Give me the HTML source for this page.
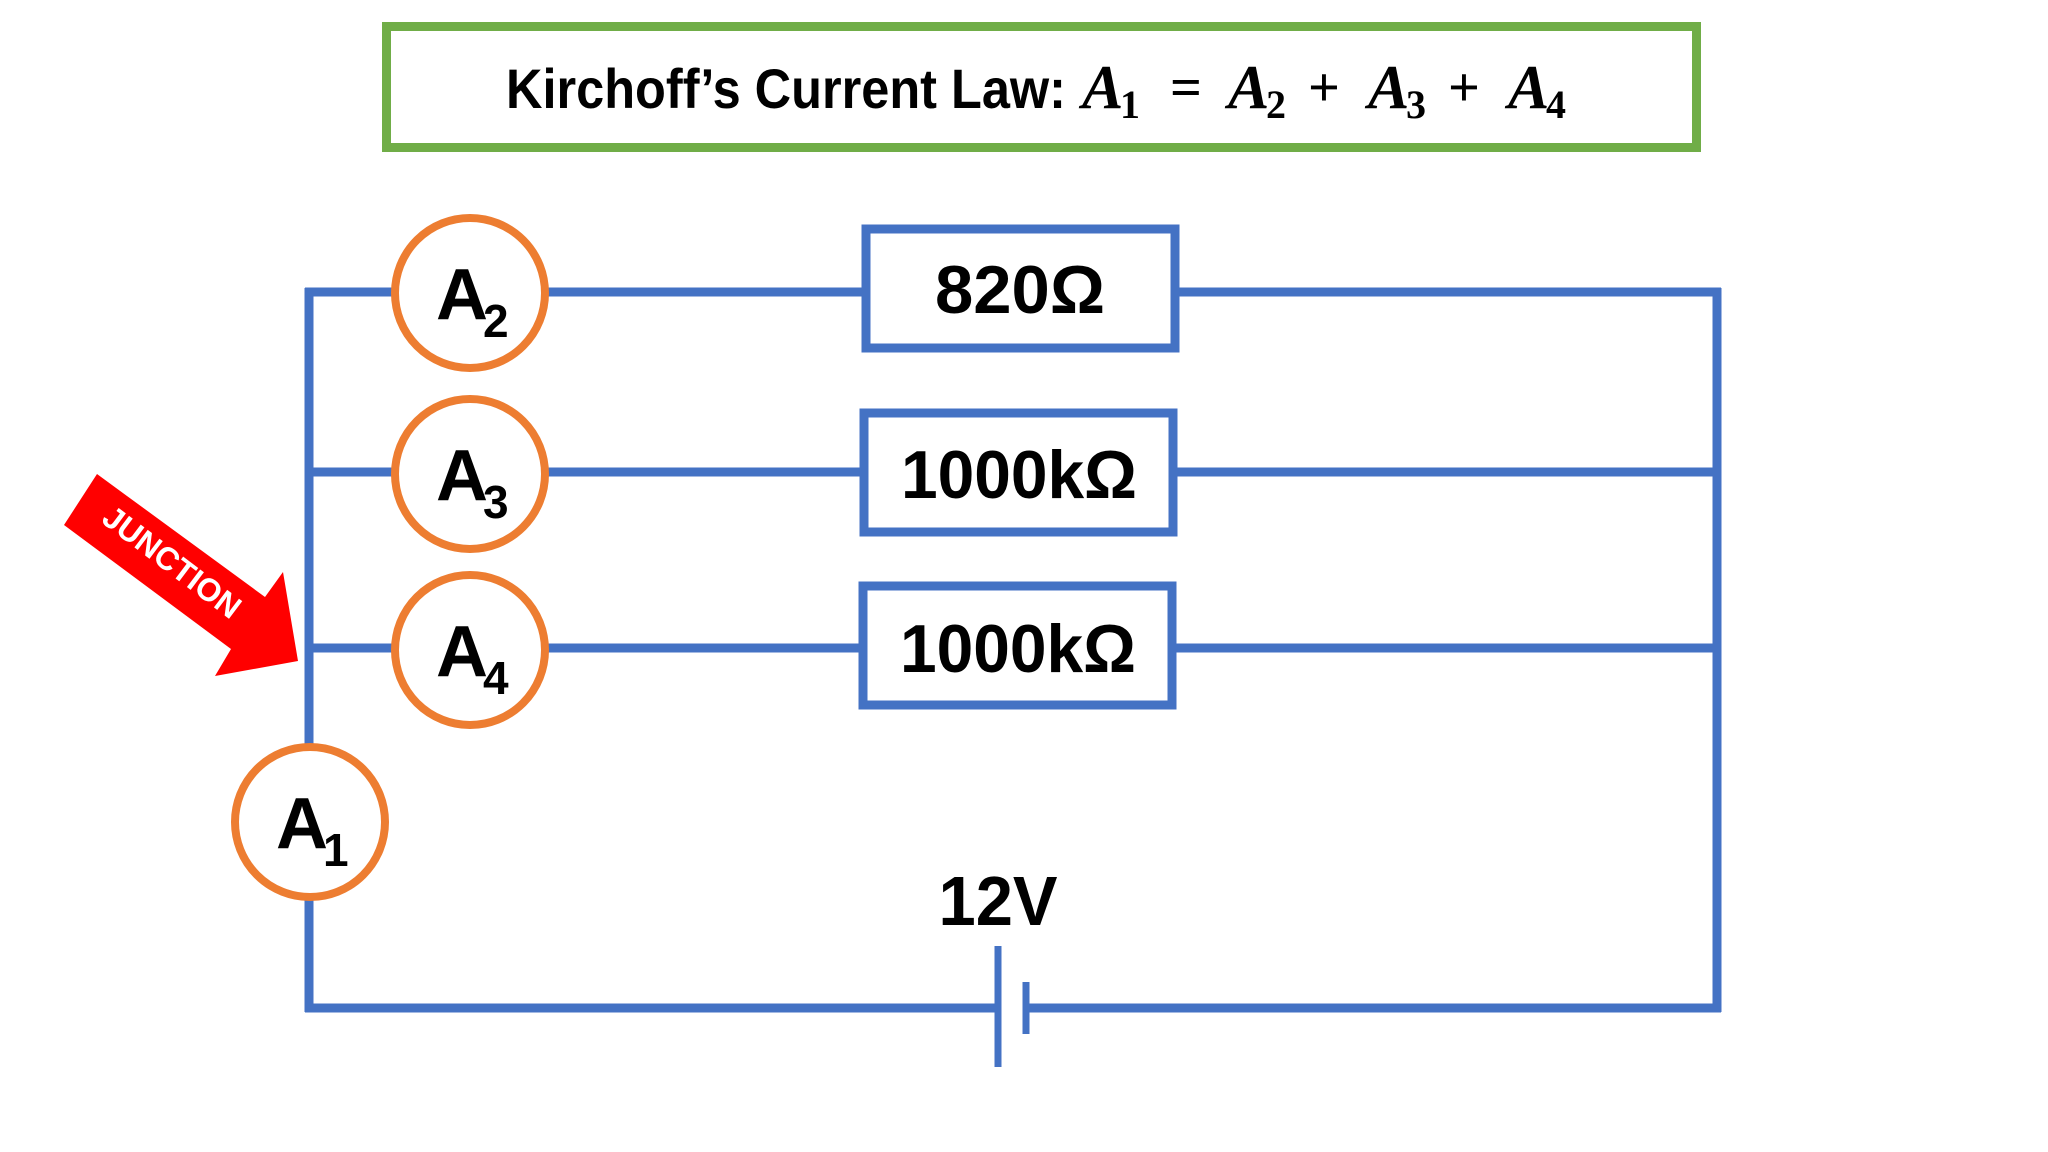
<!DOCTYPE html>
<html><head><meta charset="utf-8"><style>
html,body{margin:0;padding:0;background:#fff;}
svg{display:block;}
.b{font-family:"Liberation Sans",sans-serif;font-weight:bold;fill:#000;}
.m{font-family:"Liberation Serif",serif;font-style:italic;font-weight:bold;fill:#000;}
.n{font-family:"Liberation Serif",serif;font-style:normal;font-weight:bold;fill:#000;}
</style></head><body>
<svg width="2048" height="1152" viewBox="0 0 2048 1152" xmlns="http://www.w3.org/2000/svg">
<rect width="2048" height="1152" fill="#fff"/>
<!-- title -->
<rect x="386.5" y="26.5" width="1310" height="121" fill="#fff" stroke="#70ad47" stroke-width="9"/>
<text class="b" x="506" y="108" font-size="56" textLength="560" lengthAdjust="spacingAndGlyphs">Kirchoff’s Current Law:</text>
<text class="m" x="1082" y="108" font-size="62">A</text><text class="n" x="1120" y="118" font-size="40">1</text>
<text class="n" x="1170" y="106" font-size="56">=</text>
<text class="m" x="1228" y="108" font-size="62">A</text><text class="n" x="1266" y="118" font-size="40">2</text>
<text class="n" x="1308" y="106" font-size="56">+</text>
<text class="m" x="1368" y="108" font-size="62">A</text><text class="n" x="1406" y="118" font-size="40">3</text>
<text class="n" x="1448" y="106" font-size="56">+</text>
<text class="m" x="1508" y="108" font-size="62">A</text><text class="n" x="1546" y="118" font-size="40">4</text>

<g stroke="#4472c4" stroke-width="9" fill="none">
<line x1="309" y1="288" x2="309" y2="1012"/>
<line x1="1717" y1="288" x2="1717" y2="1012"/>
<line x1="305" y1="292" x2="1721" y2="292"/>
<line x1="305" y1="472" x2="1721" y2="472"/>
<line x1="305" y1="648" x2="1721" y2="648"/>
<line x1="305" y1="1008" x2="998" y2="1008"/>
<line x1="1025" y1="1008" x2="1721" y2="1008"/>
</g>
<g stroke="#4472c4" stroke-width="7">
<line x1="998" y1="946" x2="998" y2="1067"/>
<line x1="1026" y1="982" x2="1026" y2="1034"/>
</g>
<g stroke="#4472c4" stroke-width="9" fill="#fff">
<rect x="866" y="229" width="309" height="119"/>
<rect x="864" y="413" width="309" height="119"/>
<rect x="863" y="586" width="309" height="119"/>
</g>
<text class="b" x="1020" y="313" font-size="68" text-anchor="middle" textLength="170" lengthAdjust="spacingAndGlyphs">820Ω</text>
<text class="b" x="1019" y="498" font-size="68" text-anchor="middle" textLength="236" lengthAdjust="spacingAndGlyphs">1000kΩ</text>
<text class="b" x="1018" y="672" font-size="68" text-anchor="middle" textLength="236" lengthAdjust="spacingAndGlyphs">1000kΩ</text>
<text class="b" x="998" y="925" font-size="70" text-anchor="middle" textLength="119" lengthAdjust="spacingAndGlyphs">12V</text>

<g stroke="#ed7d31" stroke-width="8" fill="#fff">
<circle cx="470" cy="293" r="75"/>
<circle cx="470" cy="474" r="75"/>
<circle cx="470" cy="650" r="75"/>
<circle cx="310" cy="822" r="75"/>
</g>
<g class="b">
<text x="436" y="319" font-size="72">A</text><text x="483" y="337" font-size="46">2</text>
<text x="436" y="500" font-size="72">A</text><text x="483" y="518" font-size="46">3</text>
<text x="436" y="676" font-size="72">A</text><text x="483" y="694" font-size="46">4</text>
<text x="276" y="848" font-size="72">A</text><text x="323" y="866" font-size="46">1</text>
</g>

<polygon points="97,474 64,525 231,649 215,676 298,661 283,572 265,597" fill="#ff0000"/>
<text x="172" y="573" font-family="Liberation Sans,sans-serif" font-weight="bold" font-size="32" fill="#fff" text-anchor="middle" transform="rotate(37 172 562)">JUNCTION</text>
</svg>
</body></html>
